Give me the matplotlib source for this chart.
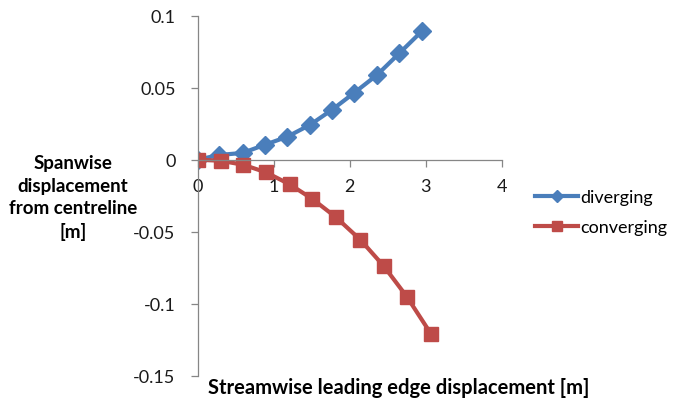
import matplotlib
matplotlib.use("Agg")
from matplotlib import pyplot as plt

# values
div_x = [0.0, 0.28, 0.59, 0.88, 1.18, 1.48, 1.77, 2.06, 2.36, 2.65, 2.95]
div_y = [0.0, 0.0033, 0.0047, 0.0103, 0.016, 0.0243, 0.0348, 0.0465, 0.0589, 0.0738, 0.0893]
conv_x = [0.0, 0.30, 0.60, 0.90, 1.21, 1.51, 1.82, 2.14, 2.45, 2.75, 3.07]
conv_y = [0.0, -0.0007, -0.0035, -0.0088, -0.0171, -0.0273, -0.040, -0.0556, -0.074, -0.095, -0.121]

x_ticks = [0, 1, 2, 3, 4]
y_ticks = [-0.15, -0.1, -0.05, 0, 0.05, 0.1]
y_labels = ["-0.15", "-0.1", "-0.05", "0", "0.05", "0.1"]

plt.rcParams["font.family"] = ["Lato", "DejaVu Sans"]

fig = plt.figure(figsize=(6.73, 4.02), dpi=100)
ax = fig.add_axes([0.2938, 0.0629, 0.4517, 0.8955])

ax.plot(div_x, div_y, color="#4A7EBB", lw=3, marker="D", ms=9, label="diverging")
ax.plot(conv_x, conv_y, color="#BE4B48", lw=3, marker="s", ms=10.5, label="converging")

ax.set_xlim(0, 4)
ax.set_ylim(-0.15, 0.1)
ax.set_xticks(x_ticks)
ax.set_yticks(y_ticks)
ax.set_yticklabels(y_labels)

ax.spines["left"].set_position(("data", 0))
ax.spines["bottom"].set_position(("data", 0))
ax.spines["top"].set_visible(False)
ax.spines["right"].set_visible(False)
for s in ("left", "bottom"):
    ax.spines[s].set_color("#868686")
    ax.spines[s].set_linewidth(0.9)
ax.tick_params(axis="both", direction="out", length=5, width=0.9, color="#868686",
               labelsize=13, labelcolor="#1a1a1a")
ax.tick_params(axis="y", pad=11)
ax.tick_params(axis="x", pad=8)

fig.text(0.108, 0.507, "Spanwise\ndisplacement\nfrom centreline\n[m]", ha="center", va="center",
         fontsize=13.5, fontweight="bold", linespacing=1.4)
fig.text(0.592, 0.035, "Streamwise leading edge displacement [m]", ha="center", va="center",
         fontsize=14.5, fontweight="bold")

leg = ax.legend(loc="center left", bbox_to_anchor=(0.795, 0.47), bbox_transform=fig.transFigure,
                frameon=False, fontsize=13, handlelength=2.4, handletextpad=0.1,
                labelspacing=0.75, markerscale=0.7, borderpad=0, borderaxespad=0)

fig.savefig("out.png", dpi=100)
